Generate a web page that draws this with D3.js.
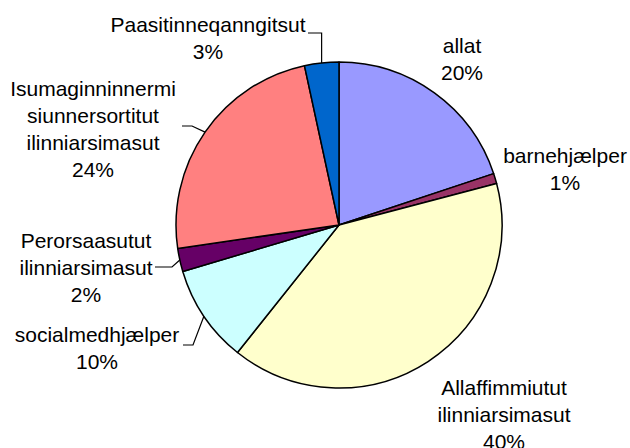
<!DOCTYPE html>
<html>
<head>
<meta charset="utf-8">
<script src="https://cdn.jsdelivr.net/npm/d3@7"></script>
<style>
  body { margin: 0; background: #fff; }
  svg text { font-family: "Liberation Sans", Arial, sans-serif; font-size: 21px; fill: #000; }
</style>
</head>
<body>
<svg id="chart" width="630" height="448"></svg>
<script>
// slices, clockwise from 12 o'clock
const categories = [
  "allat",
  "barnehjælper",
  "Allaffimmiutut\nilinniarsimasut",
  "socialmedhjælper",
  "Perorsaasutut\nilinniarsimasut",
  "Isumaginninnermi\nsiunnersortitut\nilinniarsimasut",
  "Paasitinneqanngitsut"
];
const shares = [19.9, 1.0, 39.8, 9.7, 2.3, 23.9, 3.4];
const colors = ["#9999FF", "#993366", "#FFFFCC", "#CCFFFF", "#660066", "#FF8080", "#0066CC"];

// label placement: centre x, first baseline, optional leader elbow x (text end x)
const labelPos = [
  { x: 462, y: 53 },
  { x: 565, y: 163 },
  { x: 504, y: 395 },
  { x: 97,  y: 342, lineFrom: 183, lineY: 345, elbow: 193 },
  { x: 86,  y: 248, lineFrom: 155, lineY: 267, elbow: 172 },
  { x: 93,  y: 96,  lineFrom: 182, lineY: 126, elbow: 192 },
  { x: 208, y: 32,  lineFrom: 308, lineY: 33,  elbow: null }
];

const cx = 339, cy = 225, R = 163;
const lineH = 27;

const svg = d3.select("#chart");
const g = svg.append("g").attr("transform", `translate(${cx},${cy})`);

const pie = d3.pie().sort(null).value(d => d)(shares);
const arc = d3.arc().innerRadius(0).outerRadius(R);

g.selectAll("path.slice")
  .data(pie)
  .join("path")
  .attr("class", "slice")
  .attr("d", arc)
  .attr("fill", (d, i) => colors[i])
  .attr("stroke", "#000")
  .attr("stroke-width", 1.5)
  .attr("stroke-linejoin", "round");

// leader lines
pie.forEach((d, i) => {
  const p = labelPos[i];
  if (p.lineFrom == null) return;
  const a = (d.startAngle + d.endAngle) / 2;
  const ex = cx + R * Math.sin(a);
  const ey = cy - R * Math.cos(a);
  const elbowX = p.elbow == null ? ex : p.elbow;
  svg.append("path")
    .attr("d", d3.line()([[p.lineFrom, p.lineY], [elbowX, p.lineY], [ex, ey]]))
    .attr("fill", "none")
    .attr("stroke", "#000")
    .attr("stroke-width", 1.2);
});

// labels
categories.forEach((name, i) => {
  const p = labelPos[i];
  const lines = name.split("\n").concat([Math.round(shares[i]) + "%"]);
  const t = svg.append("text")
    .attr("text-anchor", "middle")
    .attr("x", p.x)
    .attr("y", p.y);
  lines.forEach((l, k) => {
    t.append("tspan")
      .attr("x", p.x)
      .attr("y", p.y + k * lineH)
      .text(l);
  });
});
</script>
</body>
</html>
